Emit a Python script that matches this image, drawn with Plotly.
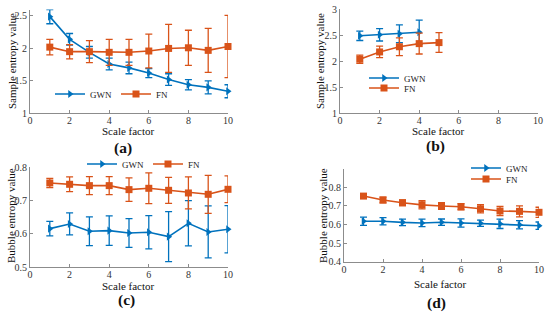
import plotly.graph_objects as go

scale = [1, 2, 3, 4, 5, 6, 7, 8, 9, 10]

# (a) sample entropy, both noises, scales 1..10
a_gwn = [2.49, 2.14, 1.94, 1.76, 1.70, 1.62, 1.52, 1.44, 1.40, 1.34]
a_gwn_err = [0.11, 0.09, 0.09, 0.09, 0.09, 0.07, 0.09, 0.08, 0.10, 0.10]
a_fn = [2.02, 1.95, 1.95, 1.94, 1.94, 1.96, 2.00, 2.01, 1.97, 2.03]
a_fn_err = [0.12, 0.11, 0.17, 0.20, 0.20, 0.26, 0.37, 0.27, 0.34, 0.48]

# (b) sample entropy, fewer scales
b_gwn_x = [1, 2, 3, 4]
b_gwn = [2.49, 2.51, 2.53, 2.56]
b_gwn_err = [0.09, 0.12, 0.17, 0.23]
b_fn_x = [1, 2, 3, 4, 5]
b_fn = [2.04, 2.18, 2.28, 2.34, 2.36]
b_fn_err = [0.08, 0.11, 0.17, 0.20, 0.19]

# (c) bubble entropy
c_gwn = [0.616, 0.630, 0.608, 0.610, 0.603, 0.605, 0.592, 0.632, 0.606, 0.614]
c_gwn_err = [0.022, 0.033, 0.043, 0.044, 0.043, 0.050, 0.075, 0.068, 0.078, 0.071]
c_fn = [0.753, 0.749, 0.745, 0.745, 0.733, 0.737, 0.731, 0.723, 0.719, 0.734]
c_fn_err = [0.014, 0.022, 0.027, 0.027, 0.035, 0.046, 0.039, 0.048, 0.057, 0.040]

# (d) bubble entropy
d_gwn = [0.617, 0.617, 0.611, 0.608, 0.612, 0.608, 0.606, 0.603, 0.598, 0.593]
d_gwn_err = [0.022, 0.019, 0.017, 0.020, 0.017, 0.022, 0.017, 0.025, 0.022, 0.020]
d_fn = [0.752, 0.731, 0.716, 0.705, 0.699, 0.695, 0.684, 0.672, 0.670, 0.665]
d_fn_err = [0.010, 0.015, 0.015, 0.022, 0.018, 0.017, 0.022, 0.025, 0.030, 0.027]

x_title = "Scale factor"
y_title_sample = "Sample entropy value"
y_title_bubble = "Bubble entropy value"
captions = ["(a)", "(b)", "(c)", "(d)"]

BLUE = "#0072BD"
ORANGE = "#D95319"
FONT = "Liberation Serif, Times New Roman, serif"

fig = go.Figure()


def add(x, y, err, name, color, symbol, xa, ya, legend):
    fig.add_trace(go.Scatter(
        x=x, y=y, name=name, mode="lines+markers",
        line=dict(color=color, width=1.6),
        marker=dict(symbol=symbol, size=7, color=color),
        error_y=dict(type="data", array=err, color=color, thickness=1.3, width=3.5),
        xaxis=xa, yaxis=ya, legend=legend, cliponaxis=False,
    ))


add(scale, a_gwn, a_gwn_err, "GWN", BLUE, "triangle-right", "x", "y", "legend")
add(scale, a_fn, a_fn_err, "FN", ORANGE, "square", "x", "y", "legend2")
add(b_gwn_x, b_gwn, b_gwn_err, "GWN", BLUE, "triangle-right", "x2", "y2", "legend3")
add(b_fn_x, b_fn, b_fn_err, "FN", ORANGE, "square", "x2", "y2", "legend4")
add(scale, c_gwn, c_gwn_err, "GWN", BLUE, "triangle-right", "x3", "y3", "legend5")
add(scale, c_fn, c_fn_err, "FN", ORANGE, "square", "x3", "y3", "legend6")
add(scale, d_gwn, d_gwn_err, "GWN", BLUE, "triangle-right", "x4", "y4", "legend7")
add(scale, d_fn, d_fn_err, "FN", ORANGE, "square", "x4", "y4", "legend8")

W, H = 550, 320


def xd(a, b):
    return [a / W, b / W]


def yd(top, bottom):
    return [1 - bottom / H, 1 - top / H]


axis_common = dict(
    showline=True, linecolor="#8c8c8c", linewidth=1, showgrid=False, zeroline=False,
    ticks="inside", ticklen=3, tickcolor="#8c8c8c", automargin=False,
    tickfont=dict(family=FONT, size=10, color="#333"),
)

xt = dict(range=[0, 10], tickvals=[0, 2, 4, 6, 8, 10], ticklabelstandoff=-2)

fig.update_layout(
    width=W, height=H, margin=dict(l=0, r=0, t=0, b=0, autoexpand=False),
    paper_bgcolor="white", plot_bgcolor="white",
    font=dict(family=FONT),
    xaxis=dict(domain=xd(30, 228), anchor="y", **xt, **axis_common),
    yaxis=dict(domain=yd(9.5, 113.3), anchor="x", range=[1, 2.6], tickvals=[1, 1.5, 2, 2.5], **axis_common),
    xaxis2=dict(domain=xd(340, 538), anchor="y2", **xt, **axis_common),
    yaxis2=dict(domain=yd(9.3, 113.3), anchor="x2", range=[1, 3], tickvals=[1, 1.5, 2, 2.5, 3], **axis_common),
    xaxis3=dict(domain=xd(30, 228), anchor="y3", **xt, **axis_common),
    yaxis3=dict(domain=yd(167.3, 267.3), anchor="x3", range=[0.5, 0.8], tickvals=[0.5, 0.6, 0.7, 0.8], **axis_common),
    xaxis4=dict(domain=xd(344, 539), anchor="y4", **xt, **axis_common),
    yaxis4=dict(domain=yd(168.5, 261.7), anchor="x4", range=[0.4, 0.9], tickvals=[0.4, 0.5, 0.6, 0.7, 0.8], **axis_common),
    showlegend=True,
)

leg_font = dict(family=FONT, size=9, color="#222")


def leg(x, y):
    return dict(x=x / W, y=1 - y / H, xanchor="left", yanchor="middle", orientation="h",
                bgcolor="rgba(0,0,0,0)", font=leg_font, itemwidth=30)


fig.update_layout(
    legend=leg(50, 94),
    legend2=leg(116, 94),
    legend3=leg(364, 78),
    legend4=leg(364, 88),
    legend5=leg(82, 164),
    legend6=leg(148, 164),
    legend7=leg(466, 168),
    legend8=leg(466, 179),
)


def text(t, x, y, size, angle=0, bold=False):
    fig.add_annotation(text=f"<b>{t}</b>" if bold else t, x=x / W, y=1 - y / H, xref="paper", yref="paper",
                       showarrow=False, textangle=angle,
                       font=dict(family=FONT, size=size, color="#111"),
                       xanchor="center", yanchor="middle")


# axis titles
text(x_title, 128, 131, 11)
text(x_title, 438, 131, 11)
text(x_title, 128, 285.5, 11)
text(x_title, 441, 283.5, 11)
text(y_title_sample, 12, 61, 11, -90)
text(y_title_sample, 320, 61, 11, -90)
text(y_title_bubble, 11, 216, 11, -90)
text(y_title_bubble, 323, 216, 11, -90)

# captions
for t, (x, y) in zip(captions, [(123, 148), (435, 146), (126, 299.5), (436, 303)]):
    text(t, x, y, 15.5, bold=True)

fig.write_html("out.html", config={"displayModeBar": False},
               post_script="document.body.style.margin='0';document.body.style.overflow='hidden';")
